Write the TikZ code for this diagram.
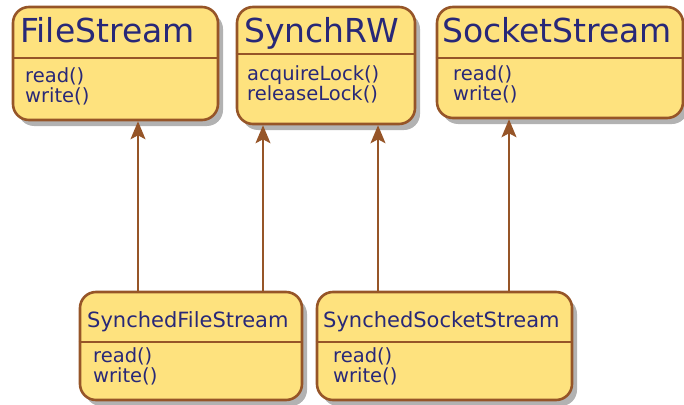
\documentclass[tikz,border=0pt]{standalone}
\usepackage{fontspec}
\setmainfont{DejaVu Sans}
\usepackage{tikz}
\usetikzlibrary{arrows.meta,fit,shadows}
\definecolor{classfill}{RGB}{254,226,126}
\definecolor{classline}{RGB}{150,85,40}
\definecolor{classtext}{RGB}{40,40,120}

\begin{document}
\begin{tikzpicture}[x=1pt, y=-1pt,
  classbox/.style={draw=classline, line width=2.6pt, fill=classfill, rounded corners=16pt, inner sep=0pt, drop shadow={shadow xshift=5pt, shadow yshift=-6pt, fill=black, opacity=0.3}},
  divline/.style={draw=classline, line width=2.4pt},
  bigtitle/.style={anchor=base west, inner sep=0pt, text=classtext, font=\fontsize{33}{36}\selectfont},
  smalltitle/.style={anchor=base west, inner sep=0pt, text=classtext, font=\fontsize{21}{24}\selectfont},
  methods/.style={anchor=base west, inner sep=0pt, align=left, text=classtext, font=\fontsize{19.5}{19.5}\selectfont},
  inherit/.style={draw=classline, line width=1.8pt, -{Stealth[length=18pt, width=15pt, inset=4pt]}}]
\useasboundingbox (0,0) rectangle (684,404);
\node[classbox, fit={(13,7) (218,120)}] (fs) {};
\node[classbox, fit={(237,7) (415,124)}] (rw) {};
\node[classbox, fit={(437,7) (683,118)}] (ss) {};
\node[classbox, fit={(80,292) (302,400)}] (sfs) {};
\node[classbox, fit={(317,292) (572,400)}] (sss) {};
\draw[divline] (fs.west |- 0,58) -- (fs.east |- 0,58);
\draw[divline] (rw.west |- 0,54) -- (rw.east |- 0,54);
\draw[divline] (ss.west |- 0,58) -- (ss.east |- 0,58);
\draw[divline] (sfs.west |- 0,342) -- (sfs.east |- 0,342);
\draw[divline] (sss.west |- 0,342) -- (sss.east |- 0,342);
\node[bigtitle] (fsname) at (20,43) {FileStream};
\node[bigtitle] (rwname) at (244,42) {SynchRW};
\node[bigtitle] (ssname) at (442,43) {SocketStream};
\node[smalltitle] (sfsname) at (87,327) {SynchedFileStream};
\node[smalltitle] (sssname) at (323,327) {SynchedSocketStream};
\node[methods] (fsops) at (25,102) {read()\\write()};
\node[methods] (rwops) at (247,100) {acquireLock()\\releaseLock()};
\node[methods] (ssops) at (453,100) {read()\\write()};
\node[methods] (sfsops) at (93,382) {read()\\write()};
\node[methods] (sssops) at (333,382) {read()\\write()};
\draw[inherit] (sfs.north -| 138,0) -- (fs.south -| 138,0);
\draw[inherit] (sfs.north -| 263,0) -- (rw.south -| 263,0);
\draw[inherit] (sss.north -| 378,0) -- (rw.south -| 378,0);
\draw[inherit] (sss.north -| 509,0) -- (ss.south -| 509,0);
\end{tikzpicture}
\end{document}
